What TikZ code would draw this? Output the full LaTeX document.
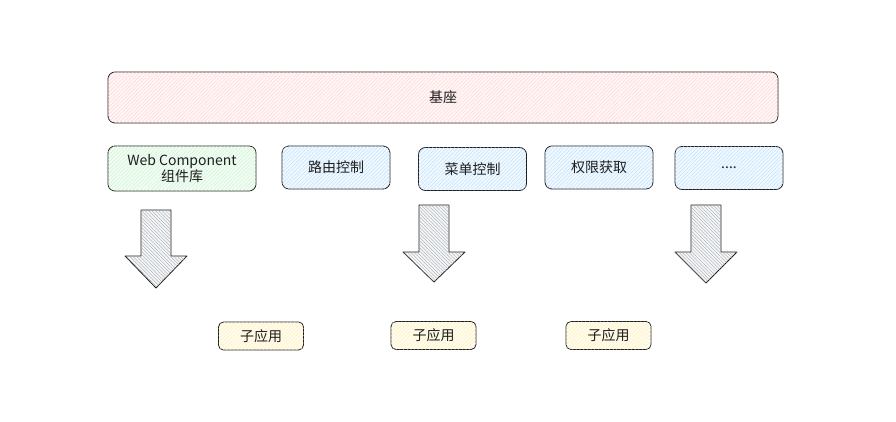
\documentclass[tikz,border=0pt]{standalone}
\usepackage{fontspec}
\setmainfont{Noto Sans CJK SC}
\usepackage{xcolor}
\usetikzlibrary{patterns.meta}
\definecolor{ink}{HTML}{1E1E1E}
\definecolor{uBase}{HTML}{FFA8A8}
\definecolor{uLib}{HTML}{8CE99A}
\definecolor{uCtl}{HTML}{74C0FC}
\definecolor{uApp}{HTML}{FFE066}
\definecolor{uFlow}{HTML}{868E96}
\tikzset{
  blk/.style={draw=ink, line width=0.8pt, rounded corners=7pt, align=center,
              font=\fontsize{14}{16}\selectfont, text=ink, inner sep=2pt,
              fill=#1!10,
              postaction={pattern={Lines[angle=45,distance=2.6pt,line width=0.35pt]},
                          pattern color=#1!55}},
  base/.style={blk=uBase, minimum width=670, minimum height=51},
  lib/.style={blk=uLib, minimum width=148, minimum height=45},
  ctl/.style={blk=uCtl, minimum width=108, minimum height=43},
  app/.style={blk=uApp, minimum width=85, minimum height=28, rounded corners=5pt},
  % the fat arrows pointing down: gray hatch, white ground
  fatarrow/.style={draw=ink, line width=0.8pt, line join=round, fill=uFlow!8,
              postaction={pattern={Lines[angle=-45,distance=2.4pt,line width=0.35pt]},
                          pattern color=uFlow!80}},
}
% cx, top of shaft, shoulder, tip
\newcommand{\fatarrow}[4]{%
  \draw[fatarrow] ({#1-15},#2) -- ({#1+15},#2) -- ({#1+15},#3) -- ({#1+31},#3)
    -- (#1,#4) -- ({#1-31},#3) -- ({#1-15},#3) -- cycle;}

\begin{document}
\begin{tikzpicture}[x=1pt, y=-1pt]
\useasboundingbox (0,0) rectangle (896,422);

%% ── the base ─────────────────────────────────────────────────────────────
\node[base] (base) at (443,97.5) {基座};

%% ── what the base provides ───────────────────────────────────────────────
\node[lib] (wc) at (182,168.5) {Web Component\\组件库};
\node[ctl] (route) at (336,167.5) {路由控制};
\node[ctl] (menu) at (472.5,169) {菜单控制};
\node[ctl] (auth) at (599,167.5) {权限获取};
\node[ctl] (more) at (729,168) {....};

%% ── handed down ──────────────────────────────────────────────────────────
\fatarrow{156}{210}{256}{288}
\fatarrow{434}{205}{252}{282}
\fatarrow{706}{205}{252}{283}

%% ── the sub-applications ─────────────────────────────────────────────────
\node[app] (sub1) at (261,336) {子应用};
\node[app] (sub2) at (433.5,335.5) {子应用};
\node[app] (sub3) at (608.5,335.5) {子应用};

\end{tikzpicture}
\end{document}
